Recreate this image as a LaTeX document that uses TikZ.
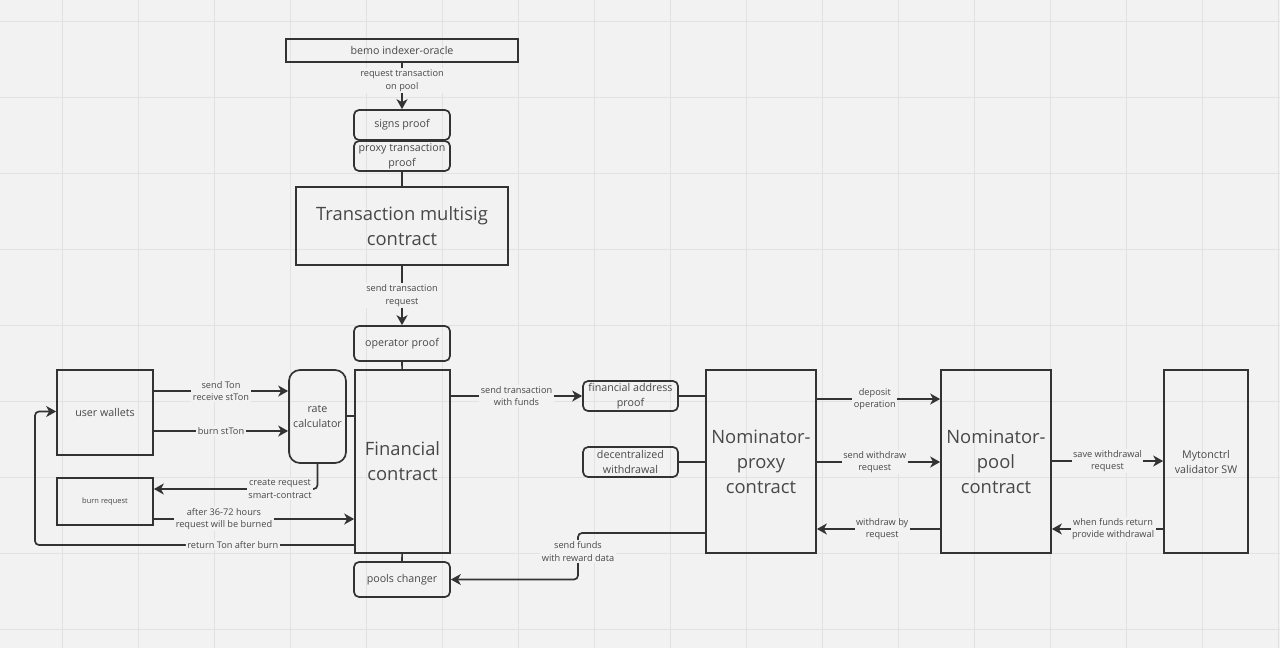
\documentclass[tikz,border=0pt]{standalone}
\usepackage{fontspec}
\setmainfont{Open Sans}
\usetikzlibrary{arrows.meta}
\definecolor{bg}{HTML}{F2F2F2}
\definecolor{gridc}{HTML}{E2E2E2}
\definecolor{ink}{HTML}{333333}
\definecolor{txt}{HTML}{484848}
\begin{document}
\begin{tikzpicture}[x=1pt,y=-1pt,
  box/.style={draw=ink, line width=1.7pt, inner sep=0pt, align=center, text=txt, font=\fontsize{10.7}{15}\selectfont},
  rbox/.style={box, rounded corners=5pt},
  big/.style={font=\fontsize{18.4}{25}\selectfont},
  tiny/.style={font=\fontsize{7.5}{9}\selectfont},
  lbl/.style={fill=bg, inner sep=1.5pt, align=center, text=txt, font=\fontsize{9.2}{12.7}\selectfont},
  conn/.style={draw=ink, line width=1.7pt},
  arr/.style={conn, -{Stealth[length=10pt,width=11pt,inset=3pt]}},
  gridline/.style={draw=gridc, line width=1pt}]
\useasboundingbox (0,0) rectangle (1280,648);
\fill[bg] (0,0) rectangle (1280,648);
\foreach \x in {62,138,...,1278} \draw[gridline] (\x,0) -- (\x,648);
\foreach \y in {21,97,...,629} \draw[gridline] (0,\y) -- (1280,\y);

% nodes
\node[box, minimum width=232pt, minimum height=23pt] (oracle) at (402,50.5) {bemo indexer-oracle};
\node[rbox, minimum width=96pt, minimum height=30pt] (signs) at (402,125) {signs proof};
\node[rbox, minimum width=96pt, minimum height=30pt] (ptproof) at (402,156) {proxy transaction\\proof};
\node[box, big, minimum width=212pt, minimum height=78pt] (multisig) at (402,226) {Transaction multisig\\contract};
\node[rbox, minimum width=96pt, minimum height=35pt] (opproof) at (402,343.5) {operator proof};
\node[box, big, minimum width=95pt, minimum height=183pt] (fin) at (402.5,461.5) {Financial\\contract};
\node[rbox, minimum width=96pt, minimum height=35pt] (pools) at (402,579.5) {pools changer};
\node[box, minimum width=96pt, minimum height=85pt] (wallets) at (105,412.5) {user wallets};
\node[box, tiny, minimum width=96pt, minimum height=47pt] (burnreq) at (105,501.5) {burn request};
\node[box, rounded corners=11pt, minimum width=57pt, minimum height=93pt] (rate) at (317.5,416.5) {rate\\calculator};
\node[rbox, minimum width=95pt, minimum height=30pt] (faproof) at (630.5,396) {financial address\\proof};
\node[rbox, minimum width=95pt, minimum height=30pt] (decw) at (630.5,462) {decentralized\\withdrawal};
\node[box, big, minimum width=110pt, minimum height=183pt] (nproxy) at (761,461.5) {Nominator-\\proxy\\contract};
\node[box, big, minimum width=110pt, minimum height=183pt] (npool) at (996,461.5) {Nominator-\\pool\\contract};
\node[box, minimum width=84pt, minimum height=183pt] (myton) at (1206,461.5) {Mytonctrl\\validator SW};

% vertical chain
\draw[arr] (oracle) -- node[lbl, pos=0.38] (l1) {request transaction\\on pool} (signs);
\draw[conn] (ptproof) -- (multisig);
\draw[arr] (multisig) -- node[lbl] (l2) {send transaction\\request} (opproof);
\draw[conn] (opproof) -- (fin);
\draw[conn] (fin) -- (pools);

% left side
\draw[arr] (wallets.east |- 0,391) -- node[lbl] (l3) {send Ton\\receive stTon} (rate.west |- 0,391);
\draw[arr] (wallets.east |- 0,431) -- node[lbl] (l4) {burn stTon} (rate.west |- 0,431);
\draw[conn] (rate.east |- 0,416) -- (fin.west |- 0,416);
\draw[arr, rounded corners=4pt] (rate.south) -- (317.5,489) -- (burnreq.east |- 0,489);
\node[lbl] (l5) at (280,489) {create request\\smart-contract};
\draw[arr] (burnreq.east |- 0,519) -- node[lbl, pos=0.35] (l6) {after 36-72 hours\\request will be burned} (fin.west |- 0,519);
\draw[arr, rounded corners=4pt] (fin.west |- 0,545) -- node[lbl, pos=0.38] (l7) {return Ton after burn} (35,545) -- (35,411.5) -- (wallets.west |- 0,411.5);

% middle
\draw[arr] (fin.east |- 0,396) -- node[lbl] (l8) {send transaction\\with funds} (faproof.west);
\draw[conn] (faproof.east) -- (nproxy.west |- faproof.east);
\draw[conn] (decw.east) -- (nproxy.west |- decw.east);
\draw[arr, rounded corners=4pt] (nproxy.west |- 0,533) -- (578,533) -- (578,579.5) -- (pools.east);
\node[lbl] (l9) at (578,551.5) {send funds\\with reward data};

% right side
\draw[arr] (nproxy.east |- 0,399) -- node[lbl, pos=0.47] (l10) {deposit\\operation} (npool.west |- 0,399);
\draw[arr] (nproxy.east |- 0,462) -- node[lbl, pos=0.47] (l11) {send withdraw\\request} (npool.west |- 0,462);
\draw[arr] (npool.west |- 0,529) -- node[lbl, pos=0.47] (l12) {withdraw by\\request} (nproxy.east |- 0,529);
\draw[arr] (npool.east |- 0,461) -- node[lbl] (l13) {save withdrawal\\request} (myton.west |- 0,461);
\draw[arr] (myton.west |- 0,529) -- node[lbl, pos=0.45] (l14) {when funds return\\provide withdrawal} (npool.east |- 0,529);
\end{tikzpicture}
\end{document}
